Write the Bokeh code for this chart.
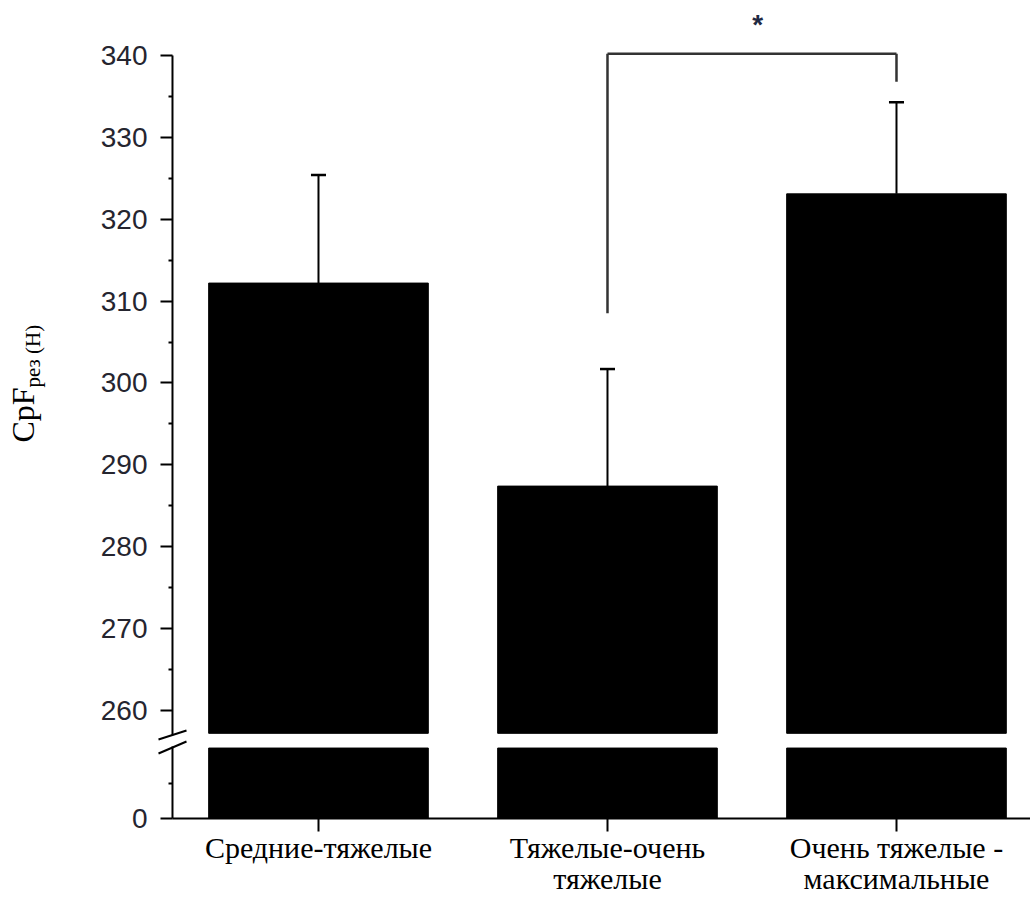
import math

from bokeh.core.properties import value
from bokeh.embed import file_html
from bokeh.models import FixedTicker, Label, Range1d
from bokeh.plotting import figure
from bokeh.resources import INLINE

# --- data -------------------------------------------------------------
categories = ["Средние-тяжелые", "Тяжелые-очень\nтяжелые", "Очень тяжелые -\nмаксимальные"]
means = [312.2, 287.4, 323.1]          # CpF рез, Н
errors = [13.2, 14.3, 11.2]            # upper error bar length
upper_ticks = [260, 270, 280, 290, 300, 310, 320, 330, 340]
upper_minor = [265, 275, 285, 295, 305, 315, 325, 335]
sig_pair = (1, 2)                      # groups compared
sig_label = "*"
sig_level = 340.2                      # height of the bracket
sig_leg_bottoms = [308.5, 336.8]       # lower ends of the bracket legs

# --- layout of the broken scale (plot units) ----------------------------
W, H = 1030, 899
X_START, X_END = -0.1003, 3.4637
Y_START, Y_END = 236.9, 346.72
AXIS_X = 0.4948       # x where the value axis is drawn
Y_ZERO = 246.8        # where the "0" of the lower segment sits
UPPER_FLOOR = 257.2   # bars of the upper segment start here
LOWER_CEIL = 255.4    # bars of the lower segment end here
AXIS_BREAK_HI = 256.95
AXIS_BREAK_LO = 255.6
LOWER_MINOR = 251.1
BAR_W = 0.76

xs = [i + 1 for i in range(len(categories))]


def px_x(px):
    return X_START + px * (X_END - X_START) / W


def px_y(py):
    return Y_END - py * (Y_END - Y_START) / H


p = figure(
    width=W, height=H, min_border=0,
    x_range=Range1d(X_START, X_END), y_range=Range1d(Y_START, Y_END),
    output_backend="svg", toolbar_location=None,
)
p.outline_line_color = None
p.grid.visible = False
p.background_fill_color = "white"
p.border_fill_color = "white"

# bars: upper part of the broken scale and the stub below the break
p.vbar(x=xs, width=BAR_W, bottom=UPPER_FLOOR, top=means, fill_color="black", line_color="black")
p.vbar(x=xs, width=BAR_W, bottom=Y_ZERO, top=LOWER_CEIL, fill_color="black", line_color="black")

# error bars
tops = [m + e for m, e in zip(means, errors)]
p.segment(x0=xs, y0=means, x1=xs, y1=tops, line_color="black", line_width=2)
cap = 0.026
p.segment(x0=[x - cap for x in xs], y0=tops, x1=[x + cap for x in xs], y1=tops,
          line_color="black", line_width=2.5)

# significance bracket
xa, xb = xs[sig_pair[0]], xs[sig_pair[1]]
p.segment(x0=[xa, xa, xb], y0=[sig_leg_bottoms[0], sig_level, sig_level],
          x1=[xa, xb, xb], y1=[sig_level, sig_level, sig_leg_bottoms[1]],
          line_color="#333333", line_width=2.5)
p.text(x=[(xa + xb) / 2 + 0.02], y=[px_y(24)], text=[sig_label], text_align="center",
       text_baseline="middle", text_font=value("Liberation Sans"),
       text_font_size="28px", text_font_style="bold", text_color="#1f2a44")

# value axis: ticks and labels from the axis, its line drawn in two pieces
ya = p.yaxis[0]
ya.fixed_location = AXIS_X
ya.ticker = FixedTicker(ticks=[Y_ZERO] + upper_ticks, minor_ticks=[LOWER_MINOR] + upper_minor)
ya.major_label_overrides = {Y_ZERO: "0"}
ya.axis_line_color = None
ya.major_tick_out = 12
ya.major_tick_in = 0
ya.minor_tick_out = 4
ya.minor_tick_in = 0
ya.major_tick_line_width = 2
ya.minor_tick_line_width = 2
ya.major_tick_line_color = "black"
ya.minor_tick_line_color = "black"
ya.major_label_standoff = 13
ya.major_label_text_font = "Liberation Sans"
ya.major_label_text_font_size = "28px"
ya.major_label_text_color = "#25252f"

p.segment(x0=[AXIS_X, AXIS_X], y0=[Y_ZERO, AXIS_BREAK_HI],
          x1=[AXIS_X, AXIS_X], y1=[AXIS_BREAK_LO, 340.0],
          line_color="black", line_width=2)

# break marks on the value axis
p.segment(x0=[px_x(158), px_x(158)], y0=[px_y(739), px_y(753)],
          x1=[px_x(186), px_x(186)], y1=[px_y(730), px_y(741)],
          line_color="black", line_width=2)

# category axis
xa_ = p.xaxis[0]
xa_.fixed_location = Y_ZERO
xa_.bounds = (AXIS_X, X_END)
xa_.ticker = FixedTicker(ticks=xs, minor_ticks=[])
xa_.major_label_overrides = {x: c for x, c in zip(xs, categories)}
xa_.axis_line_width = 2
xa_.axis_line_color = "black"
xa_.major_tick_out = 13
xa_.major_tick_in = 0
xa_.major_tick_line_width = 2
xa_.major_label_standoff = 0
xa_.major_label_text_font = "Liberation Serif"
xa_.major_label_text_font_size = "30px"
xa_.major_label_text_color = "black"
xa_.major_label_text_line_height = 0.92

# value axis title: CpF with subscript
p.add_layout(Label(x=px_x(22), y=px_y(442), text="CpF", angle=math.pi / 2,
                   text_align="left", text_baseline="alphabetic",
                   text_font="Liberation Serif", text_font_size="32px", text_color="black"))
p.add_layout(Label(x=px_x(32), y=px_y(387), text="рез (Н)", angle=math.pi / 2,
                   text_align="left", text_baseline="alphabetic",
                   text_font="Liberation Serif", text_font_size="21px", text_color="black"))

open("out.html", "w").write(file_html(p, INLINE))
